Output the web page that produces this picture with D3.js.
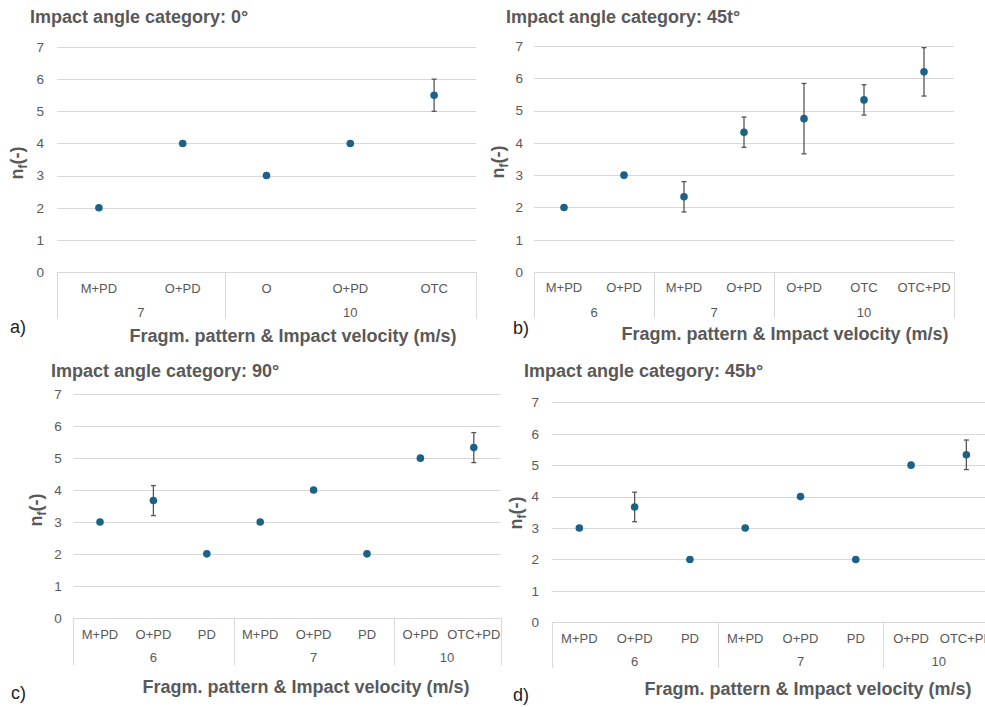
<!DOCTYPE html>
<html>
<head>
<meta charset="utf-8">
<script src="https://cdn.jsdelivr.net/npm/d3@7"></script>
<style>
  html, body { margin: 0; padding: 0; background: #fff; }
  svg { display: block; font-family: "Liberation Sans", Arial, sans-serif; }
</style>
</head>
<body>
<svg id="chart" width="985" height="707"></svg>
<script>
// ---- data ----
const yTicks = [0, 1, 2, 3, 4, 5, 6, 7];

const titleA = "Impact angle category: 0°";
const velocityA = ["7", "7", "10", "10", "10"];
const patternA = ["M+PD", "O+PD", "O", "O+PD", "OTC"];
const meanA = [2, 4, 3, 4, 5.5];
const errA = [0, 0, 0, 0, 0.5];

const titleB = "Impact angle category: 45t°";
const velocityB = ["6", "6", "7", "7", "10", "10", "10"];
const patternB = ["M+PD", "O+PD", "M+PD", "O+PD", "O+PD", "OTC", "OTC+PD"];
const meanB = [2, 3, 2.33, 4.33, 4.75, 5.33, 6.2];
const errB = [0, 0, 0.47, 0.47, 1.09, 0.47, 0.75];

const titleC = "Impact angle category: 90°";
const velocityC = ["6", "6", "6", "7", "7", "7", "10", "10"];
const patternC = ["M+PD", "O+PD", "PD", "M+PD", "O+PD", "PD", "O+PD", "OTC+PD"];
const meanC = [3, 3.67, 2, 3, 4, 2, 5, 5.33];
const errC = [0, 0.47, 0, 0, 0, 0, 0, 0.47];

const titleD = "Impact angle category: 45b°";
const velocityD = ["6", "6", "6", "7", "7", "7", "10", "10"];
const patternD = ["M+PD", "O+PD", "PD", "M+PD", "O+PD", "PD", "O+PD", "OTC+PD"];
const meanD = [3, 3.67, 2, 3, 4, 2, 5, 5.33];
const errD = [0, 0.47, 0, 0, 0, 0, 0, 0.47];

const xAxisTitle = "Fragm. pattern & Impact velocity (m/s)";

// ---- layout of each panel ----
const panels = [
  { tag: "a)", title: titleA, vel: velocityA, pat: patternA, mean: meanA, err: errA,
    left: 57, right: 476, top: 47, bottom: 272, titleX: 30, titleY: 23, tickGap: 13,
    row1: 288, row2: 312, divBottom: 319, xtX: 293, xtY: 342, tagX: 10, tagY: 333, ytX: 17, ytY: 163 },
  { tag: "b)", title: titleB, vel: velocityB, pat: patternB, mean: meanB, err: errB,
    left: 534, right: 954, top: 46, bottom: 272, titleX: 506, titleY: 22.5, tickGap: 11,
    row1: 287, row2: 312, divBottom: 318, xtX: 785, xtY: 340, tagX: 513, tagY: 334, ytX: 498, ytY: 162 },
  { tag: "c)", title: titleC, vel: velocityC, pat: patternC, mean: meanC, err: errC,
    left: 73.3, right: 500.5, top: 394.3, bottom: 617.7, titleX: 51, titleY: 376.5, tickGap: 11.6,
    row1: 634, row2: 657.7, divBottom: 665, xtX: 306, xtY: 692.5, tagX: 11, tagY: 699, ytX: 36, ytY: 510 },
  { tag: "d)", title: titleD, vel: velocityD, pat: patternD, mean: meanD, err: errD,
    left: 551.7, right: 994, top: 402.3, bottom: 622.3, titleX: 524, titleY: 377, tickGap: 12.7,
    row1: 638.3, row2: 661, divBottom: 668, xtX: 808, xtY: 695, tagX: 513, tagY: 701, ytX: 516, ytY: 513 }
];

const textColor = "#595959";
const gridColor = "#d9d9d9";
const dotColor = "#1b6286";
const barColor = "#555555";
const font = "'Liberation Sans', Arial, sans-serif";

const svg = d3.select("#chart");

panels.forEach(p => {
  const g = svg.append("g");
  const idx = d3.range(p.mean.length);

  const x = d3.scaleBand().domain(idx).range([p.left, p.right]).padding(0);
  const y = d3.scaleLinear().domain([0, 7]).range([p.bottom, p.top]);

  // horizontal gridlines (including the baseline at 0)
  g.append("g").selectAll("line").data(yTicks).join("line")
    .attr("x1", p.left).attr("x2", p.right)
    .attr("y1", d => Math.round(y(d)) + 0.5).attr("y2", d => Math.round(y(d)) + 0.5)
    .attr("stroke", gridColor).attr("stroke-width", 1);

  // value axis labels
  const yAxis = d3.axisLeft(y).tickValues(yTicks).tickFormat(d3.format("d"))
    .tickSize(0).tickPadding(p.tickGap);
  const ya = g.append("g").attr("transform", `translate(${p.left},0)`).call(yAxis);
  ya.select(".domain").remove();
  ya.selectAll("text").attr("fill", textColor).attr("font-size", 13.5).attr("font-family", font);

  // multi-level category axis: group boundaries
  const groups = [];
  p.vel.forEach((v, i) => {
    if (!groups.length || groups[groups.length - 1].v !== v) groups.push({ v, start: i, end: i });
    else groups[groups.length - 1].end = i;
  });
  const bounds = [p.left].concat(groups.map(gr => x(gr.end) + x.bandwidth()));
  g.append("g").selectAll("line").data(bounds).join("line")
    .attr("x1", d => Math.round(d) + 0.5).attr("x2", d => Math.round(d) + 0.5)
    .attr("y1", p.bottom).attr("y2", p.divBottom)
    .attr("stroke", gridColor).attr("stroke-width", 1);

  // first-level labels (fragmentation pattern)
  const xAxis = d3.axisBottom(x).tickFormat(i => p.pat[i]).tickSize(0).tickPadding(0);
  const xa = g.append("g").attr("transform", `translate(0,${p.row1 + 4.5})`).call(xAxis);
  xa.select(".domain").remove();
  xa.selectAll("text").attr("dy", 0).attr("y", 0)
    .attr("fill", textColor).attr("font-size", 13).attr("font-family", font);

  // second-level labels (impact velocity)
  g.append("g").selectAll("text").data(groups).join("text")
    .attr("x", gr => (x(gr.start) + x(gr.end) + x.bandwidth()) / 2)
    .attr("y", p.row2 + 4.5)
    .attr("text-anchor", "middle")
    .attr("fill", textColor).attr("font-size", 13)
    .text(gr => gr.v);

  // error bars
  const withErr = idx.filter(i => p.err[i] > 0);
  const cx = i => x(i) + x.bandwidth() / 2;
  const eb = g.append("g").attr("stroke", barColor).attr("stroke-width", 1.3);
  eb.selectAll("line.v").data(withErr).join("line").attr("class", "v")
    .attr("x1", cx).attr("x2", cx)
    .attr("y1", i => y(p.mean[i] + p.err[i])).attr("y2", i => y(p.mean[i] - p.err[i]));
  eb.selectAll("line.t").data(withErr).join("line").attr("class", "t")
    .attr("x1", i => cx(i) - 2.5).attr("x2", i => cx(i) + 2.5)
    .attr("y1", i => y(p.mean[i] + p.err[i])).attr("y2", i => y(p.mean[i] + p.err[i]));
  eb.selectAll("line.b").data(withErr).join("line").attr("class", "b")
    .attr("x1", i => cx(i) - 2.5).attr("x2", i => cx(i) + 2.5)
    .attr("y1", i => y(p.mean[i] - p.err[i])).attr("y2", i => y(p.mean[i] - p.err[i]));

  // mean markers
  g.append("g").selectAll("circle").data(idx).join("circle")
    .attr("cx", cx).attr("cy", i => y(p.mean[i])).attr("r", 3.8)
    .attr("fill", dotColor);

  // panel title
  g.append("text").attr("x", p.titleX).attr("y", p.titleY)
    .attr("fill", textColor).attr("font-size", 18).attr("font-weight", "bold")
    .text(p.title);

  // category axis title
  g.append("text").attr("x", p.xtX).attr("y", p.xtY).attr("text-anchor", "middle")
    .attr("fill", textColor).attr("font-size", 18).attr("font-weight", "bold")
    .text(xAxisTitle);

  // value axis title n_f(-)
  const yt = g.append("text")
    .attr("transform", `translate(${p.ytX + 6},${p.ytY}) rotate(-90)`)
    .attr("text-anchor", "middle")
    .attr("fill", textColor).attr("font-size", 18).attr("font-weight", "bold");
  yt.append("tspan").text("n");
  yt.append("tspan").attr("font-size", 12).attr("dy", 4).text("f");
  yt.append("tspan").attr("dy", -4).text("(-)");

  // panel tag
  g.append("text").attr("x", p.tagX).attr("y", p.tagY)
    .attr("fill", "#222").attr("font-size", 18)
    .text(p.tag);
});
</script>
</body>
</html>
